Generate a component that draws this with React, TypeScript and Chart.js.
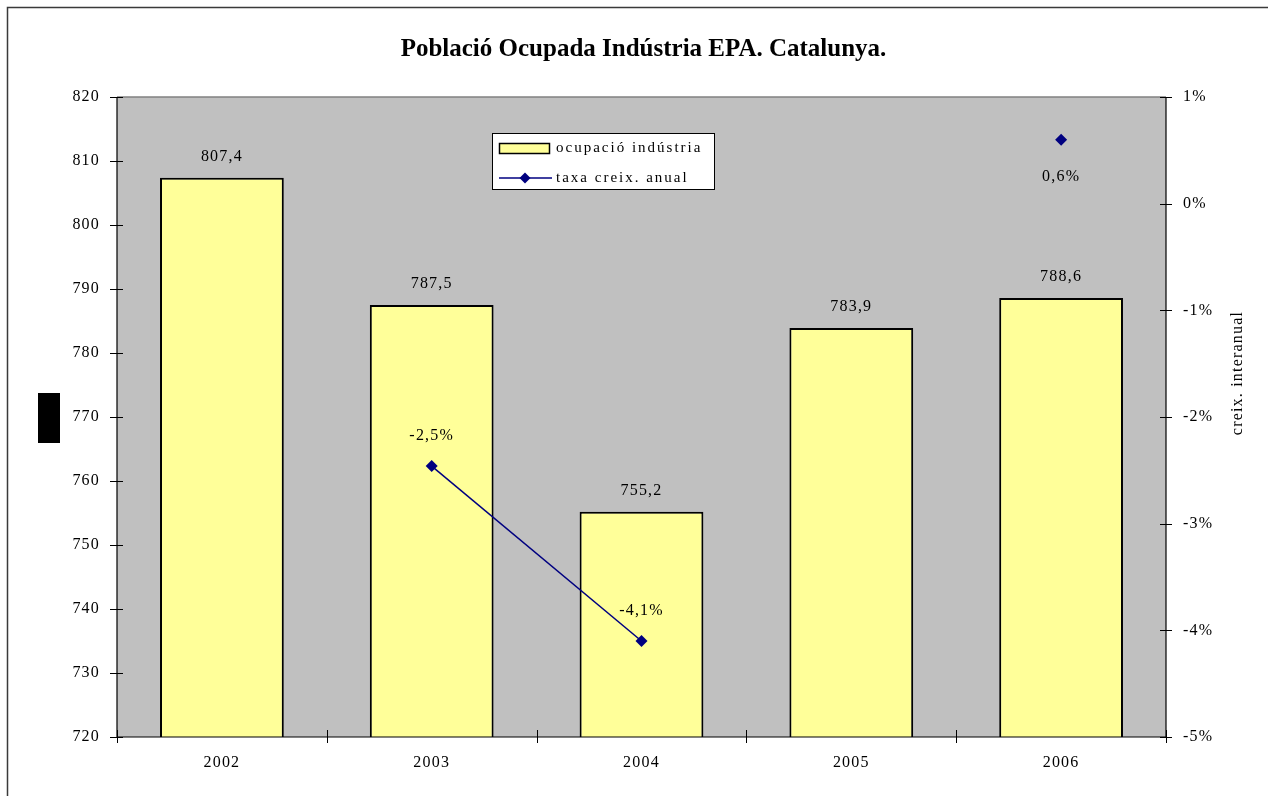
import React, { useEffect, useRef } from "react";
import { Chart, registerables } from "chart.js";

Chart.register(...registerables);

const TITLE = "Població Ocupada Indústria EPA. Catalunya.";
const years = ["2002", "2003", "2004", "2005", "2006"];
const employment = [807.4, 787.5, 755.2, 783.9, 788.6];
const employmentLabels = ["807,4", "787,5", "755,2", "783,9", "788,6"];
const growth: (number | null)[] = [null, -2.46, -4.1, null, 0.6];
const growthLabels: (string | null)[] = [null, "-2,5%", "-4,1%", null, "0,6%"];
const growthLabelBelow = [false, false, false, false, true];
const barLegend = "ocupació indústria";
const lineLegend = "taxa creix. anual";
const rightAxisTitle = "creix. interanual";

const FONT = "'Liberation Serif', 'Times New Roman', serif";
const NAVY = "#000080";
const YELLOW = "#FFFF99";
const PLOT_BG = "#C0C0C0";
const BASE_SPACING = "1.2px";

function diamond(ctx: CanvasRenderingContext2D, x: number, y: number, r: number) {
  ctx.beginPath();
  ctx.moveTo(x, y - r);
  ctx.lineTo(x + r, y);
  ctx.lineTo(x, y + r);
  ctx.lineTo(x - r, y);
  ctx.closePath();
  ctx.fill();
}

const decorPlugin = {
  id: "decor",
  beforeDraw(chart: any) {
    const ctx = chart.ctx as any;
    ctx.letterSpacing = BASE_SPACING;
    const a = chart.chartArea;
    ctx.save();
    ctx.fillStyle = "#ffffff";
    ctx.fillRect(0, 0, chart.width, chart.height);
    // outer frame
    ctx.strokeStyle = "#3a3a3a";
    ctx.lineWidth = 1.5;
    ctx.beginPath();
    ctx.moveTo(7.5, chart.height + 5);
    ctx.lineTo(7.5, 7.5);
    ctx.lineTo(chart.width + 5, 7.5);
    ctx.stroke();
    // plot background
    ctx.fillStyle = PLOT_BG;
    ctx.fillRect(a.left, a.top, a.right - a.left, a.bottom - a.top);
    // title
    ctx.fillStyle = "#000";
    ctx.font = `bold 25px ${FONT}`;
    ctx.letterSpacing = "0px";
    ctx.textAlign = "center";
    ctx.textBaseline = "middle";
    ctx.fillText(TITLE, (a.left + a.right) / 2 + 2, 50);
    // left axis title placeholder (black block)
    ctx.fillRect(38, 393, 22, 50);
    // right axis title
    ctx.save();
    ctx.translate(1238, 373);
    ctx.rotate(-Math.PI / 2);
    ctx.font = `16px ${FONT}`;
    ctx.letterSpacing = BASE_SPACING;
    ctx.fillText(rightAxisTitle, 0, 0);
    ctx.restore();
    ctx.restore();
  },
  afterDatasetsDraw(chart: any) {
    const ctx = chart.ctx as any;
    const a = chart.chartArea;
    const yL = chart.scales.y;
    const yR = chart.scales.y2;
    ctx.save();
    // top border
    ctx.strokeStyle = "#808080";
    ctx.lineWidth = 1.5;
    ctx.beginPath();
    ctx.moveTo(a.left, a.top);
    ctx.lineTo(a.right, a.top);
    ctx.stroke();
    // axis lines
    ctx.strokeStyle = "#000";
    ctx.lineWidth = 1.2;
    ctx.beginPath();
    ctx.moveTo(a.left, a.top);
    ctx.lineTo(a.left, a.bottom);
    ctx.lineTo(a.right, a.bottom);
    ctx.lineTo(a.right, a.top);
    ctx.stroke();
    // ticks
    ctx.lineWidth = 1;
    ctx.beginPath();
    for (const t of yL.ticks) {
      const py = Math.round(yL.getPixelForValue(t.value)) + 0.5;
      ctx.moveTo(a.left - 7, py);
      ctx.lineTo(a.left + 6, py);
    }
    for (const t of yR.ticks) {
      const py = Math.round(yR.getPixelForValue(t.value)) + 0.5;
      ctx.moveTo(a.right - 6, py);
      ctx.lineTo(a.right + 6, py);
    }
    const step = (a.right - a.left) / years.length;
    for (let i = 0; i <= years.length; i++) {
      const px = Math.round(a.left + i * step) + 0.5;
      ctx.moveTo(px, a.bottom - 7);
      ctx.lineTo(px, a.bottom + 6);
    }
    ctx.stroke();

    // data labels
    ctx.fillStyle = "#000";
    ctx.font = `16px ${FONT}`;
    ctx.letterSpacing = BASE_SPACING;
    ctx.textAlign = "center";
    ctx.textBaseline = "middle";
    const barMeta = chart.getDatasetMeta(0);
    barMeta.data.forEach((el: any, i: number) => {
      ctx.fillText(employmentLabels[i], el.x, el.y - 21);
    });
    const lineMeta = chart.getDatasetMeta(1);
    lineMeta.data.forEach((el: any, i: number) => {
      const lbl = growthLabels[i];
      if (lbl == null || growth[i] == null) return;
      ctx.fillText(lbl, el.x, growthLabelBelow[i] ? el.y + 37 : el.y - 30);
    });

    // legend
    ctx.fillStyle = "#fff";
    ctx.fillRect(492.5, 133.5, 222, 56);
    ctx.strokeStyle = "#000";
    ctx.lineWidth = 1;
    ctx.strokeRect(492.5, 133.5, 222, 56);
    ctx.fillStyle = YELLOW;
    ctx.fillRect(499.5, 143.5, 50, 10);
    ctx.lineWidth = 1.5;
    ctx.strokeRect(499.5, 143.5, 50, 10);
    ctx.strokeStyle = NAVY;
    ctx.lineWidth = 1.5;
    ctx.beginPath();
    ctx.moveTo(499, 178);
    ctx.lineTo(552, 178);
    ctx.stroke();
    ctx.fillStyle = NAVY;
    diamond(ctx, 525, 178, 5.5);
    ctx.fillStyle = "#000";
    ctx.font = `15px ${FONT}`;
    ctx.letterSpacing = "2px";
    ctx.textAlign = "left";
    ctx.fillText(barLegend, 556, 148);
    ctx.fillText(lineLegend, 556, 178);
    ctx.restore();
  },
};

export default function App() {
  const ref = useRef<HTMLCanvasElement | null>(null);
  useEffect(() => {
    if (!ref.current) return;
    const chart = new Chart(ref.current, {
      type: "bar",
      data: {
        labels: years,
        datasets: [
          {
            type: "bar",
            label: barLegend,
            data: employment,
            backgroundColor: YELLOW,
            borderColor: "#000",
            borderWidth: 2,
            borderSkipped: false,
            barPercentage: 0.59,
            categoryPercentage: 1,
            yAxisID: "y",
            order: 2,
          },
          {
            type: "line",
            label: lineLegend,
            data: growth,
            borderColor: NAVY,
            backgroundColor: NAVY,
            borderWidth: 1.5,
            pointStyle: "rectRot",
            pointRadius: 6,
            pointBorderWidth: 0,
            spanGaps: false,
            yAxisID: "y2",
            order: 1,
          } as any,
        ],
      },
      options: {
        responsive: false,
        animation: false,
        devicePixelRatio: 1,
        layout: { padding: { top: 97, left: 0, right: 0, bottom: 0 } },
        plugins: {
          legend: { display: false },
          title: { display: false },
          tooltip: { enabled: false },
        },
        scales: {
          x: {
            offset: true,
            grid: { display: true, drawOnChartArea: false, drawTicks: false, color: "rgba(0,0,0,0)" },
            border: { display: false },
            ticks: { color: "#000", font: { family: FONT, size: 16 }, padding: 16, maxRotation: 0 },
            afterFit: (s: any) => { s.height = 59; },
          },
          y: {
            position: "left",
            min: 720,
            max: 820,
            grid: { display: true, drawOnChartArea: false, drawTicks: false, color: "rgba(0,0,0,0)" },
            border: { display: false },
            ticks: { stepSize: 10, color: "#000", font: { family: FONT, size: 16 }, padding: 17 },
            afterFit: (s: any) => { s.width = 117; },
          },
          y2: {
            position: "right",
            min: -5,
            max: 1,
            grid: { display: true, drawOnChartArea: false, drawTicks: false, color: "rgba(0,0,0,0)" },
            border: { display: false },
            ticks: {
              stepSize: 1,
              color: "#000",
              font: { family: FONT, size: 16 },
              padding: 17,
              callback: (v: any) => `${v}%`,
            },
            afterFit: (s: any) => { s.width = 102; },
          },
        },
      },
      plugins: [decorPlugin],
    });
    return () => chart.destroy();
  }, []);
  return (
    <div style={{ position: "fixed", left: 0, top: 0, width: 1268, height: 796, overflow: "hidden", background: "#fff" }}>
      <canvas ref={ref} width={1268} height={796} style={{ display: "block", width: 1268, height: 796 }} />
    </div>
  );
}
